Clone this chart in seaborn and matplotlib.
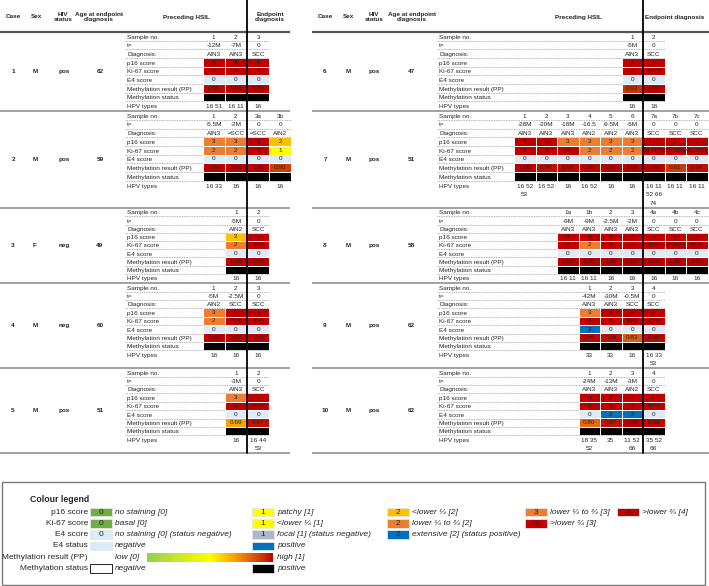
import numpy as np
import pandas as pd
import matplotlib
matplotlib.use("Agg")
import matplotlib.pyplot as plt
from matplotlib.colors import ListedColormap, LinearSegmentedColormap, to_hex
from matplotlib.patches import Rectangle
import seaborn as sns

sns.set_theme(style="white")
plt.rcParams['font.family'] = ['Liberation Sans', 'DejaVu Sans']

case_ids = [1, 2, 3, 4, 5, 6, 7, 8, 9, 10]
sexes = ['M', 'M', 'F', 'M', 'M', 'M', 'M', 'M', 'M', 'M']
hiv_status = ['pos', 'pos', 'neg', 'neg', 'pos', 'pos', 'pos', 'pos', 'pos', 'pos']
ages = [62, 59, 49, 60, 51, 47, 51, 58, 62, 62]
n_preceding = [2, 2, 1, 2, 1, 1, 6, 4, 3, 3]

sample_no = [['1', '2', '3'], ['1', '2', '3a', '3b'], ['1', '2'], ['1', '2', '3'], ['1', '2'],
             ['1', '2'], ['1', '2', '3', '4', '5', '6', '7a', '7b', '7c'],
             ['1a', '1b', '2', '3', '4a', '4b', '4c'], ['1', '2', '3', '4'], ['1', '2', '3', '4']]
t_values = [['-12M', '-7M', '0'], ['-5.5M', '-2M', '0', '0'], ['-5M', '0'], ['-5M', '-2.5M', '0'],
            ['-3M', '0'], ['-5M', '0'],
            ['-28M', '-20M', '-18M', '-16.5', '-9.5M', '-6M', '0', '0', '0'],
            ['-9M', '-9M', '-2.5M', '-2M', '0', '0', '0'], ['-42M', '-30M', '-0.5M', '0'],
            ['-24M', '-13M', '-3M', '0']]
diagnosis = [['AIN3', 'AIN3', 'SCC'], ['AIN3', '≈SCC', '≈SCC', 'AIN2'], ['AIN2', 'SCC'],
             ['AIN2', 'SCC', 'SCC'], ['AIN3', 'SCC'], ['AIN3', 'SCC'],
             ['AIN3', 'AIN3', 'AIN3', 'AIN2', 'AIN2', 'AIN3', 'SCC', 'SCC', 'SCC'],
             ['AIN3', 'AIN3', 'AIN3', 'AIN3', 'SCC', 'SCC', 'SCC'], ['AIN3', 'AIN3', 'SCC', 'SCC'],
             ['AIN3', 'AIN3', 'AIN2', 'SCC']]
p16_score = [['4', '4', '4'], ['3', '3', '4', '2'], ['2', '+'], ['3', '+', '+'], ['3', '+'],
             ['4', '+'], ['4', '4', '3', '3', '3', '3', '+', '+', '+'],
             ['4', '4', '4', '4', '+', '+', '+'], ['3', '4', '+', '+'], ['4', '4', '4', '+']]
ki67_score = [['3', '3', '3'], ['2', '2', '3', '1'], ['2', '70%'], ['2', '50%', '50%'], ['3', '>50%'],
              ['3', '>60%'], ['3', '3', '3', '2', '2', '2', '60-70%', '60-70%', '60-70%'],
              ['3', '2', '3', '3', '40%', '30-40%', '40%'], ['3', '3', '30%', '60%'],
              ['3', '3', '3', '80%']]
e4_score = [[0, 0, 0], [0, 0, 0, 0], [0, 0], [0, 0, 0], [0, 0], [0, 0],
            [0, 0, 0, 0, 0, 0, 0, 0, 0], [0, 0, 0, 0, 0, 0, 0], [2, 0, 0, 0], [0, 2, 2, 0]]
meth_pp = [[0.99, 1.00, 1.00], [1.00, 1.00, 1.00, 0.90], [1.00, 1.00], [1.00, 1.00, 1.00],
           [0.69, 0.97], [0.92, 1.00], [1.00, 0.98, 0.99, 0.99, 1.00, 1.00, 1.00, 0.91, 0.98],
           [1.00, 1.00, 1.00, 1.00, 1.00, 1.00, 1.00], [0.99, 0.98, 0.83, 0.99],
           [0.80, 0.97, 1.00, 0.99]]
hpv_types = [['16 51', '16 11', '16'], ['16 33', '16', '16', '16'], ['16', '16'], ['16', '16', '16'],
             ['16', '16 44\n53'], ['16', '16'],
             ['16 52\n53', '16 52', '16', '16 52', '16', '16', '16 11\n52 66\n74', '16 11', '16 11'],
             ['16 11', '16 11', '16', '16', '16', '16', '16'], ['33', '33', '16', '16 33\n53'],
             ['18 35\n52', '35', '11 52\n66', '35 52\n66']]

row_labels = ['Sample no.', 't=', 'Diagnosis:', 'p16 score', 'Ki-67 score', 'E4 score',
              'Methylation result (PP)', 'Methylation status', 'HPV types']

GREEN, YELLOW, GOLD, ORANGE, RED = '#70AD47', '#FFFF00', '#FFC000', '#ED7D31', '#C00000'
LBLUE, GREY, BLUE, BLACK = '#DDEBF7', '#ADB9CA', '#0070C0', '#000000'
meth_cmap = LinearSegmentedColormap.from_list(
    'meth', [(0, '#92D050'), (0.5, '#FFFF00'), (0.7, '#F5A000'), (0.82, '#E06010'),
             (0.92, '#CC3300'), (1.0, '#C00000')])

p16_colors = {'0': GREEN, '1': YELLOW, '2': GOLD, '3': ORANGE, '4': RED, '+': RED}
ki67_colors = {'0': GREEN, '1': YELLOW, '2': ORANGE, '3': RED}
e4_colors = {0: LBLUE, 1: GREY, 2: BLUE}

# ---- layout (pixels) ----
W, H = 709, 586
block_edges = [32, 111, 208, 283, 368, 453]
fig = plt.figure(figsize=(W / 100, H / 100), dpi=100)
ax = fig.add_axes([0, 0, 1, 1], zorder=5)
ax.set_facecolor('none')
ax.set_xlim(0, W)
ax.set_ylim(H, 0)
ax.axis('off')

panels = [dict(label_x=127, bound=247, step=22.2, span=(0, 290), info=(13, 35, 64, 100),
               head=[('Case', 13), ('Sex', 36), ('HIV\nstatus', 63), ('Age at endpoint\ndiagnosis', 99),
                     ('Preceding HSIL', 186), ('Endpoint\ndiagnosis', 270)]),
          dict(label_x=439, bound=643, step=21.5, span=(312, 709), info=(325, 348, 374, 411),
               head=[('Case', 325), ('Sex', 348), ('HIV\nstatus', 374), ('Age at endpoint\ndiagnosis', 412),
                     ('Preceding HSIL', 578), ('Endpoint diagnosis', 675)])]

FS = 4.6
for p in panels:
    for txt, x in p['head']:
        ax.text(x, 17, txt, ha='center', va='center', fontsize=FS, fontweight='bold',
                linespacing=1.15)
    ax.plot(p['span'], [32, 32], color='#555555', lw=1.6, solid_capstyle='butt')


def add_px_axes(x0, y0, x1, y1):
    return fig.add_axes([x0 / W, 1 - y1 / H, (x1 - x0) / W, (y1 - y0) / H], zorder=1)


for r in range(5):
    pair = [r, r + 5]
    top, bottom = block_edges[r], block_edges[r + 1]
    hpv_lines = max(len(h.split('\n')) for c in pair for h in hpv_types[c])
    nlines = 8 + hpv_lines
    RH = (bottom - top - 1) / nlines
    for side, c in enumerate(pair):
        p = panels[side]
        npre = n_preceding[c]
        ncol = len(sample_no[c])
        x_left = p['bound'] - npre * p['step']
        x_right = x_left + ncol * p['step']
        xs = x_left + (np.arange(ncol) + 0.5) * p['step']
        yc = (top + bottom) / 2
        for val, x in zip([case_ids[c], sexes[c], hiv_status[c], ages[c]], p['info']):
            ax.text(x, yc, str(val), ha='center', va='center', fontsize=FS, fontweight='bold')
        for i, lab in enumerate(row_labels):
            ax.text(p['label_x'], top + (i + 0.6) * RH, lab, ha='left', va='center', fontsize=FS)
        for i in range(1, 9):
            xe = x_right if i in (1, 2, 3, 8) else x_left
            ax.plot([p['label_x'] - 2, xe], [top + i * RH + 0.1] * 2, color='#9a9a9a', lw=0.6,
                    ls=(0, (1, 1)))
        for i, vals in enumerate([sample_no[c], t_values[c], diagnosis[c]]):
            for x, v in zip(xs, vals):
                ax.text(x, top + (i + 0.6) * RH, v, ha='center', va='center', fontsize=FS)
        for x, v in zip(xs, hpv_types[c]):
            for k, line in enumerate(v.split('\n')):
                ax.text(x, top + (8.6 + k) * RH, line, ha='center', va='center', fontsize=FS)

        # coloured rows through seaborn heatmap
        cell_colors = [[p16_colors[v] for v in p16_score[c]],
                       [ki67_colors.get(v, RED) for v in ki67_score[c]],
                       [e4_colors[v] for v in e4_score[c]],
                       [to_hex(meth_cmap(v)) for v in meth_pp[c]],
                       [BLACK] * ncol]
        labels = np.array([p16_score[c], ki67_score[c], [str(v) for v in e4_score[c]],
                           ['%.2f' % v for v in meth_pp[c]], [''] * ncol], dtype=object)
        palette = sorted(set(col for row in cell_colors for col in row))
        codes = pd.DataFrame([[palette.index(col) for col in row] for row in cell_colors])
        hax = add_px_axes(x_left, top + 3 * RH, x_right, top + 8 * RH)
        sns.heatmap(codes, ax=hax, cmap=ListedColormap(palette), vmin=-0.5,
                    vmax=len(palette) - 0.5, annot=labels, fmt='', cbar=False,
                    linewidths=0.5, linecolor='white', xticklabels=False, yticklabels=False,
                    annot_kws=dict(size=FS, color='#222222'))
    for side in range(2):
        ax.plot(panels[side]['span'], [bottom, bottom], color='#9a9a9a', lw=1.3,
                solid_capstyle='butt')

for p in panels:
    ax.plot([p['bound'], p['bound']], [0, block_edges[-1]], color='black', lw=1.3)

# ---- colour legend ----
ax.add_patch(Rectangle((2, 482), 703, 103, fill=False, ec='#777777', lw=1.0))
ax.text(30, 499, 'Colour legend', fontsize=6.3, fontweight='bold', va='center')
legend_labels = ['p16 score', 'Ki-67 score', 'E4 score', 'E4 status', 'Methylation result (PP)',
                 'Methylation status']
legend_entries = [
    [(GREEN, '0', 'no staining [0]'), (YELLOW, '1', 'patchy [1]'), (GOLD, '2', '<lower ⅓ [2]'),
     (ORANGE, '3', 'lower ⅓ to ⅔ [3]'), (RED, '4', '>lower ⅔ [4]')],
    [(GREEN, '0', 'basal [0]'), (YELLOW, '1', '<lower ⅓ [1]'), (ORANGE, '2', 'lower ⅓ to ⅔ [2]'),
     (RED, '3', '>lower ⅔ [3]')],
    [(LBLUE, '0', 'no staining [0] (status negative)'), (GREY, '1', 'focal [1] (status negative)'),
     (BLUE, '2', 'extensive [2] (status positive)')],
    [(LBLUE, '', 'negative'), (BLUE, '', 'positive')],
    [],
    [('white', '', 'negative'), (BLACK, '', 'positive')],
]
swatch_x = [90, 252, 387, 525, 617]
leg_y = [512, 523.3, 534.6, 545.9, 557.2, 568.5]
LFS = 6
for y, lab, entries in zip(leg_y, legend_labels, legend_entries):
    ax.text(88, y, lab, ha='right', va='center', fontsize=LFS)
    for x, (col, num, desc) in zip(swatch_x, entries):
        ec = 'black' if col == 'white' else '#e6e6e6'
        ax.add_patch(Rectangle((x, y - 4.3), 22, 8.6, fc=col, ec=ec, lw=0.6))
        if num:
            ax.text(x + 11, y, num, ha='center', va='center', fontsize=LFS)
        ax.text(x + 25, y, desc, ha='left', va='center', fontsize=LFS, style='italic')

ym = leg_y[4]
ax.text(115, ym, 'low [0]', ha='left', va='center', fontsize=LFS, style='italic')
ax.imshow(np.linspace(0, 1, 256)[None, :], cmap=meth_cmap, aspect='auto',
          extent=[147, 273, ym + 4.5, ym - 4.5], zorder=2)
ax.text(277, ym, 'high [1]', ha='left', va='center', fontsize=LFS, style='italic')
ax.set_xlim(0, W)
ax.set_ylim(H, 0)

fig.savefig('out.png', dpi=100)
